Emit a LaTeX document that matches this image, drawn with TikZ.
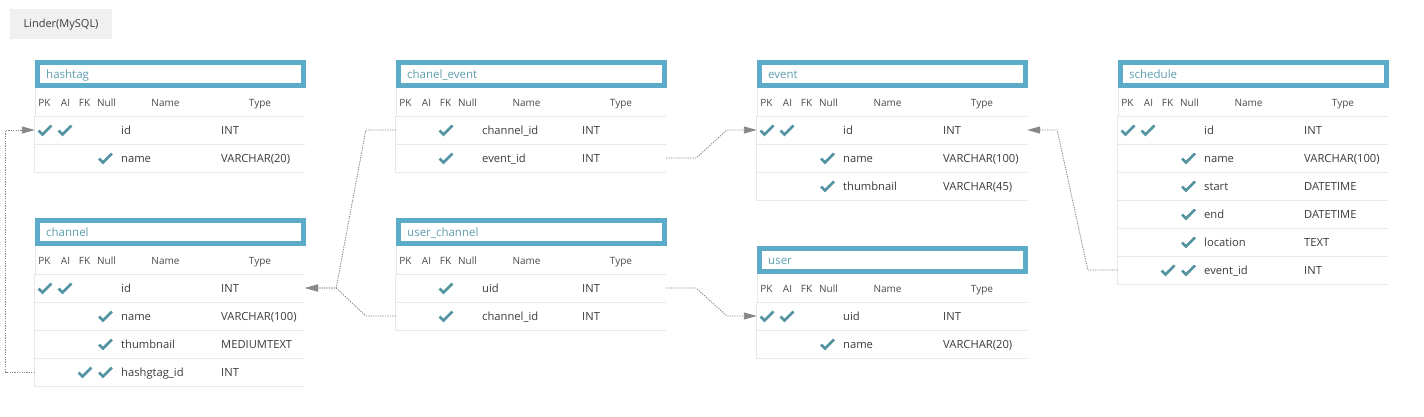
\documentclass[tikz,border=0pt]{standalone}
\usepackage{fontspec}
\setmainfont{Open Sans}
\usetikzlibrary{arrows.meta,calc}
\definecolor{hdrborder}{RGB}{90,172,200}
\definecolor{hdrtxt}{RGB}{95,158,176}
\definecolor{chkcol}{RGB}{84,148,162}
\definecolor{celltxt}{RGB}{60,60,60}
\definecolor{colgray}{RGB}{75,75,75}
\definecolor{rulecol}{RGB}{232,232,232}
\definecolor{linkgray}{RGB}{135,135,135}
\definecolor{titlefill}{RGB}{240,240,240}
\tikzset{
  hdrtext/.style={font=\fontsize{11.5}{13}\selectfont, text=hdrtxt, inner sep=0pt, anchor=base west},
  colhd/.style={font=\fontsize{10}{12}\selectfont, text=colgray, inner sep=0pt, anchor=base},
  cell/.style={font=\fontsize{11.2}{13}\selectfont, text=celltxt, inner sep=0pt, anchor=base west},
  rowbox/.style={minimum width=270pt, minimum height=28pt, inner sep=0pt, draw=none},
  rulel/.style={draw=rulecol, line width=0.8pt},
  chkline/.style={draw=chkcol, line width=2.6pt},
  chk/.pic={\draw[chkline] (-6.5pt,-0.5pt) -- (-2.5pt,-4.5pt) -- (6.5pt,4.5pt);},
  fklink/.style={draw=linkgray, line width=0.9pt, dash pattern=on 1.2pt off 1.2pt,
     -{Triangle[length=13pt,width=7pt,fill=linkgray]}},
  titlebox/.style={fill=titlefill, minimum width=102pt, minimum height=30pt, inner sep=0pt},
  titletext/.style={font=\fontsize{11}{13}\selectfont, text=celltxt, inner sep=0pt, anchor=base}
}
\def\offpk{10}\def\offai{30}\def\offfk{50}\def\offnull{70.5}
\newcommand\ertable[4]{% #1 name, #2 x, #3 y, #4 title
  \def\tx{#2}\def\ty{#3}%
  \fill[hdrborder] (#2,#3) rectangle ++(271,28);
  \fill[white] (#2+5,#3+5) rectangle ++(261,18);
  \node[hdrtext] (#1) at (#2+11,#3+18) {#4};
  \node[colhd] (#1-pk) at (#2+9.5,#3+46.7) {PK};
  \node[colhd] (#1-ai) at (#2+30.5,#3+46.7) {AI};
  \node[colhd] (#1-fk) at (#2+49.5,#3+46.7) {FK};
  \node[colhd] (#1-nu) at (#2+71.5,#3+46.7) {Null};
  \node[colhd] (#1-na) at (#2+130.5,#3+46.7) {Name};
  \node[colhd] (#1-ty) at (#2+225,#3+46.7) {Type};
  \draw[rulel] (#2,#3+28) -- (#2,#3+56.5) -- ++(270,0);
}
\newcommand\errow[5]{% #1 node, #2 row number, #3 checks, #4 name, #5 type
  \pgfmathsetmacro\rc{\ty+56+28*(#2-1)+14}%
  \node[rowbox] (#1) at (\tx+135,\rc) {};
  \draw[rulel] (#1.north west) -- (#1.south west) -- (#1.south east);
  \foreach \c in {#3} {\pic at (\tx+\csname off\c\endcsname,\rc) {chk};}
  \node[cell] (#1-n) at (\tx+86,\rc+4.5) {#4};
  \node[cell] (#1-t) at (\tx+186,\rc+4.5) {#5};
}
\begin{document}
\begin{tikzpicture}[x=1pt,y=-1pt]
\useasboundingbox[fill=white] (0,0) rectangle (1424,416);
\node[titlebox] (title) at (61,24) {};
\node[titletext] (titlet) at (61,27.8) {Linder(MySQL)};
% hashtag
\ertable{hashtag}{35}{60}{hashtag}
\errow{ht-id}{1}{pk,ai}{id}{INT}
\errow{ht-name}{2}{null}{name}{VARCHAR(20)}
% channel
\ertable{channel}{35}{218}{channel}
\errow{ch-id}{1}{pk,ai}{id}{INT}
\errow{ch-name}{2}{null}{name}{VARCHAR(100)}
\errow{ch-thumb}{3}{null}{thumbnail}{MEDIUMTEXT}
\errow{ch-hid}{4}{fk,null}{hashgtag\_id}{INT}
% chanel_event
\ertable{chevent}{396}{60}{chanel\_event}
\errow{ce-cid}{1}{fk}{channel\_id}{INT}
\errow{ce-eid}{2}{fk}{event\_id}{INT}
% user_channel
\ertable{userch}{396}{218}{user\_channel}
\errow{uc-uid}{1}{fk}{uid}{INT}
\errow{uc-cid}{2}{fk}{channel\_id}{INT}
% event
\ertable{event}{757}{60}{event}
\errow{ev-id}{1}{pk,ai}{id}{INT}
\errow{ev-name}{2}{null}{name}{VARCHAR(100)}
\errow{ev-thumb}{3}{null}{thumbnail}{VARCHAR(45)}
% user
\ertable{user}{757}{246}{user}
\errow{us-uid}{1}{pk,ai}{uid}{INT}
\errow{us-name}{2}{null}{name}{VARCHAR(20)}
% schedule
\ertable{schedule}{1118}{60}{schedule}
\errow{sc-id}{1}{pk,ai}{id}{INT}
\errow{sc-name}{2}{null}{name}{VARCHAR(100)}
\errow{sc-start}{3}{null}{start}{DATETIME}
\errow{sc-end}{4}{null}{end}{DATETIME}
\errow{sc-loc}{5}{null}{location}{TEXT}
\errow{sc-eid}{6}{fk,null}{event\_id}{INT}
% connectors
\coordinate (jch) at ($(ch-id.east)+(31,0)$);
\draw[fklink] (ch-hid.west) -- ++(-29,0) |- (ht-id.west);
\draw[fklink] (ce-cid.west) -- ++(-30,0) -- (jch) -- (ch-id.east);
\draw[fklink] (uc-cid.west) -- ++(-30,0) -- (jch) -- (ch-id.east);
\draw[fklink] (ce-eid.east) -- ++(30,0) -- ($(ev-id.west)+(-30,0)$) -- (ev-id.west);
\draw[fklink] (uc-uid.east) -- ++(30,0) -- ($(us-uid.west)+(-30,0)$) -- (us-uid.west);
\draw[fklink] (sc-eid.west) -- ++(-30,0) -- ($(ev-id.east)+(30,0)$) -- (ev-id.east);
\end{tikzpicture}
\end{document}
